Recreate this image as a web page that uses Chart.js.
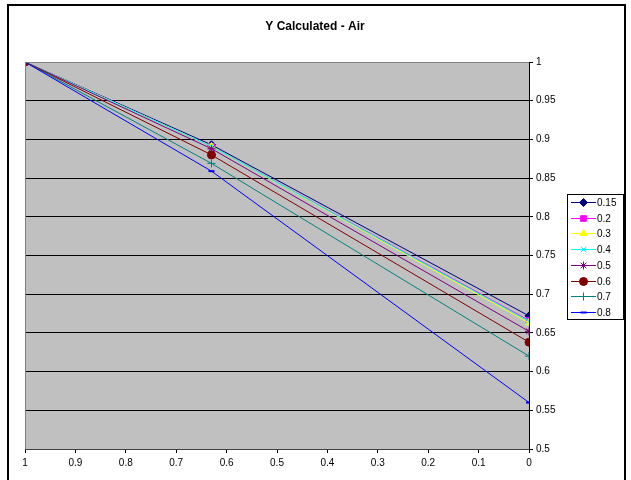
<!DOCTYPE html>
<html>
<head>
<meta charset="utf-8">
<script src="https://cdn.jsdelivr.net/npm/chart.js@4/dist/chart.umd.min.js"></script>
<style>
  html, body { margin: 0; padding: 0; background: #fff; }
  #wrap { width: 631px; height: 480px; position: relative; }
</style>
</head>
<body>
<div id="wrap"><canvas id="chart" width="631" height="480"></canvas></div>
<script>
"use strict";

var chart_title = 'Y Calculated - Air';
var x_values = [1, 0.63, 0];
var series_names = ['0.15', '0.2', '0.3', '0.4', '0.5', '0.6', '0.7', '0.8'];
var y_015 = [1, 0.893, 0.672];
var y_02 = [1, 0.891, 0.666];
var y_03 = [1, 0.891, 0.663];
var y_04 = [1, 0.891, 0.665];
var y_05 = [1, 0.888, 0.652];
var y_06 = [1, 0.880, 0.638];
var y_07 = [1, 0.869, 0.620];
var y_08 = [1, 0.859, 0.560];
var series_values = [y_015, y_02, y_03, y_04, y_05, y_06, y_07, y_08];

var colors = ['#000080', '#FF00FF', '#FFFF00', '#00FFFF', '#800080', '#800000', '#008080', '#0000FF'];
var markers = ['rectRot', 'rect', 'triangle', 'crossRot', 'star', 'circle', 'cross', 'line'];
var marker_sizes = [4, 4, 4, 4, 4, 4, 4, 3];
var marker_borders = [1, 1, 1, 1, 1, 1, 1, 2];

var fmt = function (v) {
  return String(Math.round(v * 100) / 100);
};

var to_points = function (ys) {
  return ys.map(function (y, i) {
    return { x: x_values[i], y: y };
  });
};

var datasets = series_names.map(function (name, i) {
  return {
    label: name,
    data: to_points(series_values[i]),
    order: series_names.length - i,
    borderColor: colors[i],
    backgroundColor: colors[i],
    pointBorderColor: colors[i],
    pointBackgroundColor: colors[i],
    pointStyle: markers[i],
    pointRadius: marker_sizes[i],
    pointBorderWidth: marker_borders[i],
    borderWidth: 1,
    tension: 0,
    fill: false
  };
});

// gray plot area, outer frame, title and the boxed legend
var frame_plugin = {
  id: 'frame',
  beforeDraw: function (chart) {
    var ctx = chart.ctx, a = chart.chartArea;
    ctx.save();
    ctx.fillStyle = '#fff';
    ctx.fillRect(0, 0, chart.width, chart.height);
    ctx.fillStyle = '#C0C0C0';
    ctx.fillRect(a.left, a.top, a.right - a.left, a.bottom - a.top);
    ctx.strokeStyle = '#000';
    ctx.lineWidth = 2;
    ctx.strokeRect(8, 5, 617, 480);
    ctx.restore();
  },
  afterDraw: function (chart) {
    var ctx = chart.ctx, a = chart.chartArea;
    ctx.save();
    ctx.strokeStyle = '#808080';
    ctx.lineWidth = 1;
    ctx.beginPath();
    ctx.moveTo(a.left + 0.5, a.bottom);
    ctx.lineTo(a.left + 0.5, a.top + 0.5);
    ctx.lineTo(a.right, a.top + 0.5);
    ctx.stroke();

    ctx.fillStyle = '#000';
    ctx.font = 'bold 12px "Liberation Sans", Arial, sans-serif';
    ctx.textAlign = 'center';
    ctx.textBaseline = 'middle';
    ctx.fillText(chart_title, 315, 27);

    // legend
    var lx = 567, ly = 194, lw = 56, lh = 125;
    ctx.fillStyle = '#fff';
    ctx.fillRect(lx, ly, lw, lh);
    ctx.strokeStyle = '#000';
    ctx.lineWidth = 1;
    ctx.strokeRect(lx + 0.5, ly + 0.5, lw, lh);
    ctx.font = '10px "Liberation Sans", Arial, sans-serif';
    ctx.textAlign = 'left';
    chart.data.datasets.forEach(function (ds, i) {
      var y = Math.round(202 + i * 15.7) + 0.5;
      ctx.strokeStyle = ds.borderColor;
      ctx.fillStyle = ds.borderColor;
      ctx.lineWidth = 1;
      ctx.beginPath();
      ctx.moveTo(571, y);
      ctx.lineTo(596, y);
      ctx.stroke();
      ctx.lineWidth = ds.pointBorderWidth;
      Chart.helpers.drawPoint(ctx, {
        pointStyle: ds.pointStyle,
        radius: ds.pointRadius,
        borderWidth: ds.pointBorderWidth
      }, 583.5, y);
      ctx.fillStyle = '#000';
      ctx.fillText(ds.label, 597, y + 1);
    });
    ctx.restore();
  }
};

new Chart(document.getElementById('chart').getContext('2d'), {
  type: 'line',
  data: { datasets: datasets },
  plugins: [frame_plugin],
  options: {
    responsive: false,
    animation: false,
    layout: { padding: { left: 25, top: 62, right: 0, bottom: 0 } },
    plugins: {
      legend: { display: false },
      title: { display: false },
      tooltip: { enabled: false }
    },
    scales: {
      x: {
        type: 'linear',
        position: 'bottom',
        reverse: true,
        min: 0,
        max: 1,
        afterFit: function (scale) { scale.height = 31; },
        ticks: {
          stepSize: 0.1,
          color: '#000',
          padding: 4,
          maxRotation: 0,
          font: { family: '"Liberation Sans", Arial, sans-serif', size: 10 },
          callback: function (v) { return fmt(v); }
        },
        grid: { drawOnChartArea: false, color: '#000', tickLength: 4 },
        border: { color: '#404040', width: 1 }
      },
      y: {
        type: 'linear',
        position: 'right',
        min: 0.5,
        max: 1,
        afterFit: function (scale) { scale.width = 102; },
        ticks: {
          stepSize: 0.05,
          color: '#000',
          padding: 3,
          font: { family: '"Liberation Sans", Arial, sans-serif', size: 10 },
          callback: function (v) { return fmt(v); }
        },
        grid: { color: '#000', tickLength: 4 },
        border: { color: '#000', width: 1 }
      }
    }
  }
});
</script>
</body>
</html>
